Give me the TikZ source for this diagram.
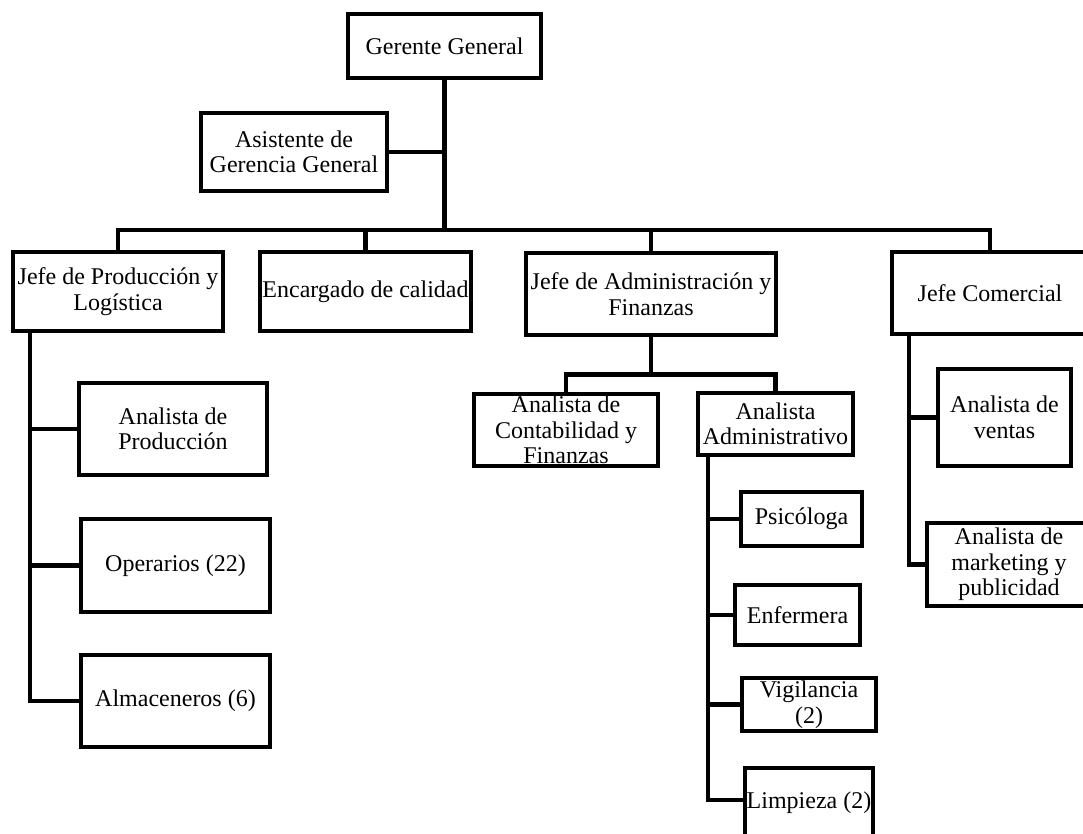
\documentclass[tikz,border=0pt]{standalone}
\usepackage{fontspec}
\setmainfont{Liberation Serif}
\usepackage{tikz}
\usetikzlibrary{calc}

\begin{document}
\begin{tikzpicture}[x=1pt, y=-1pt,
            post/.style={draw, line width=4.5pt, inner sep=0pt, align=center,
                font=\fontsize{24}{25.5}\selectfont},
            link/.style={line width=4.5pt}]

            \useasboundingbox (0,0) rectangle (1083,833);
            \clip (0,0) rectangle (1083,833);

            % Gerencia
            \node[post, minimum width=193pt, minimum height=64pt] (gerente) at (444.5,46) {Gerente General};
            \node[post, minimum width=186pt, minimum height=78pt] (asistente) at (294,152) {Asistente de\\Gerencia General};

            % Jefaturas
            \node[post, minimum width=210pt, minimum height=79pt] (jefeprod) at (118,291.5) {Jefe de Producción y\\Logística};
            \node[post, minimum width=211pt, minimum height=79pt] (calidad) at (365.5,291.5) {Encargado de calidad};
            \node[post, minimum width=250pt, minimum height=82pt] (jefeadm) at (651,294) {Jefe de Administración y\\Finanzas};
            \node[post, minimum width=196pt, minimum height=82pt] (jefecom) at (990,293) {Jefe Comercial};

            % Produccion y logistica
            \node[post, minimum width=188pt, minimum height=92pt] (anaprod) at (173,429) {Analista de\\Producción};
            \node[post, minimum width=189pt, minimum height=93pt] (operarios) at (175.5,565.5) {Operarios (22)};
            \node[post, minimum width=189pt, minimum height=92pt] (almacen) at (175.5,701) {Almaceneros (6)};

            % Administracion y finanzas
            \node[post, minimum width=184pt, minimum height=72pt] (contab) at (566,430) {Analista de\\Contabilidad y\\Finanzas};
            \node[post, minimum width=155pt, minimum height=62pt] (anadmin) at (775.5,424) {Analista\\Administrativo};
            \node[post, minimum width=121pt, minimum height=54pt] (psico) at (801.5,519) {Psicóloga};
            \node[post, minimum width=125pt, minimum height=60pt] (enferm) at (797.5,615) {Enfermera};
            \node[post, minimum width=134pt, minimum height=53pt] (vigil) at (809,704.5) {Vigilancia\\(2)};
            \node[post, minimum width=128pt, minimum height=70pt] (limpieza) at (809,803) {Limpieza (2)};

            % Comercial
            \node[post, minimum width=133pt, minimum height=97pt] (ventas) at (1004.5,417.5) {Analista de\\ventas};
            \node[post, minimum width=164pt, minimum height=83pt] (marketing) at (1009,564.5) {Analista de\\marketing y\\publicidad};

            % Lineas de mando
            \coordinate (bus) at (gerente.south |- 0,230);
            \draw[link] (gerente.south) -- (bus);
            \draw[link] (asistente.east) -- (asistente.east -| bus);
            \draw[link] (bus) -| (jefeprod.north);
            \draw[link] (bus) -| (calidad.north);
            \draw[link] (bus) -| (jefeadm.north);
            \draw[link] (bus) -| (jefecom.north);

            \coordinate (prodline) at ($(jefeprod.south west)+(19,0)$);
            \draw[link] (prodline) |- (almacen.west);
            \draw[link] (prodline |- anaprod.west) -- (anaprod.west);
            \draw[link] (prodline |- operarios.west) -- (operarios.west);

            \coordinate (admbus) at ($(jefeadm.south)+(0,37)$);
            \draw[link] (jefeadm.south) -- (admbus);
            \draw[link] (admbus) -| (contab.north);
            \draw[link] (admbus) -| (anadmin.north);

            \coordinate (admline) at ($(anadmin.south west)+(12,0)$);
            \draw[link] (admline) |- ([yshift=3pt]limpieza.west);
            \draw[link] (admline |- psico.west) -- (psico.west);
            \draw[link] (admline |- enferm.west) -- (enferm.west);
            \draw[link] (admline |- vigil.west) -- (vigil.west);

            \coordinate (comline) at ($(jefecom.south west)+(19,0)$);
            \draw[link] (comline) |- (marketing.west);
            \draw[link] (comline |- ventas.west) -- (ventas.west);
        \end{tikzpicture}
\end{document}
